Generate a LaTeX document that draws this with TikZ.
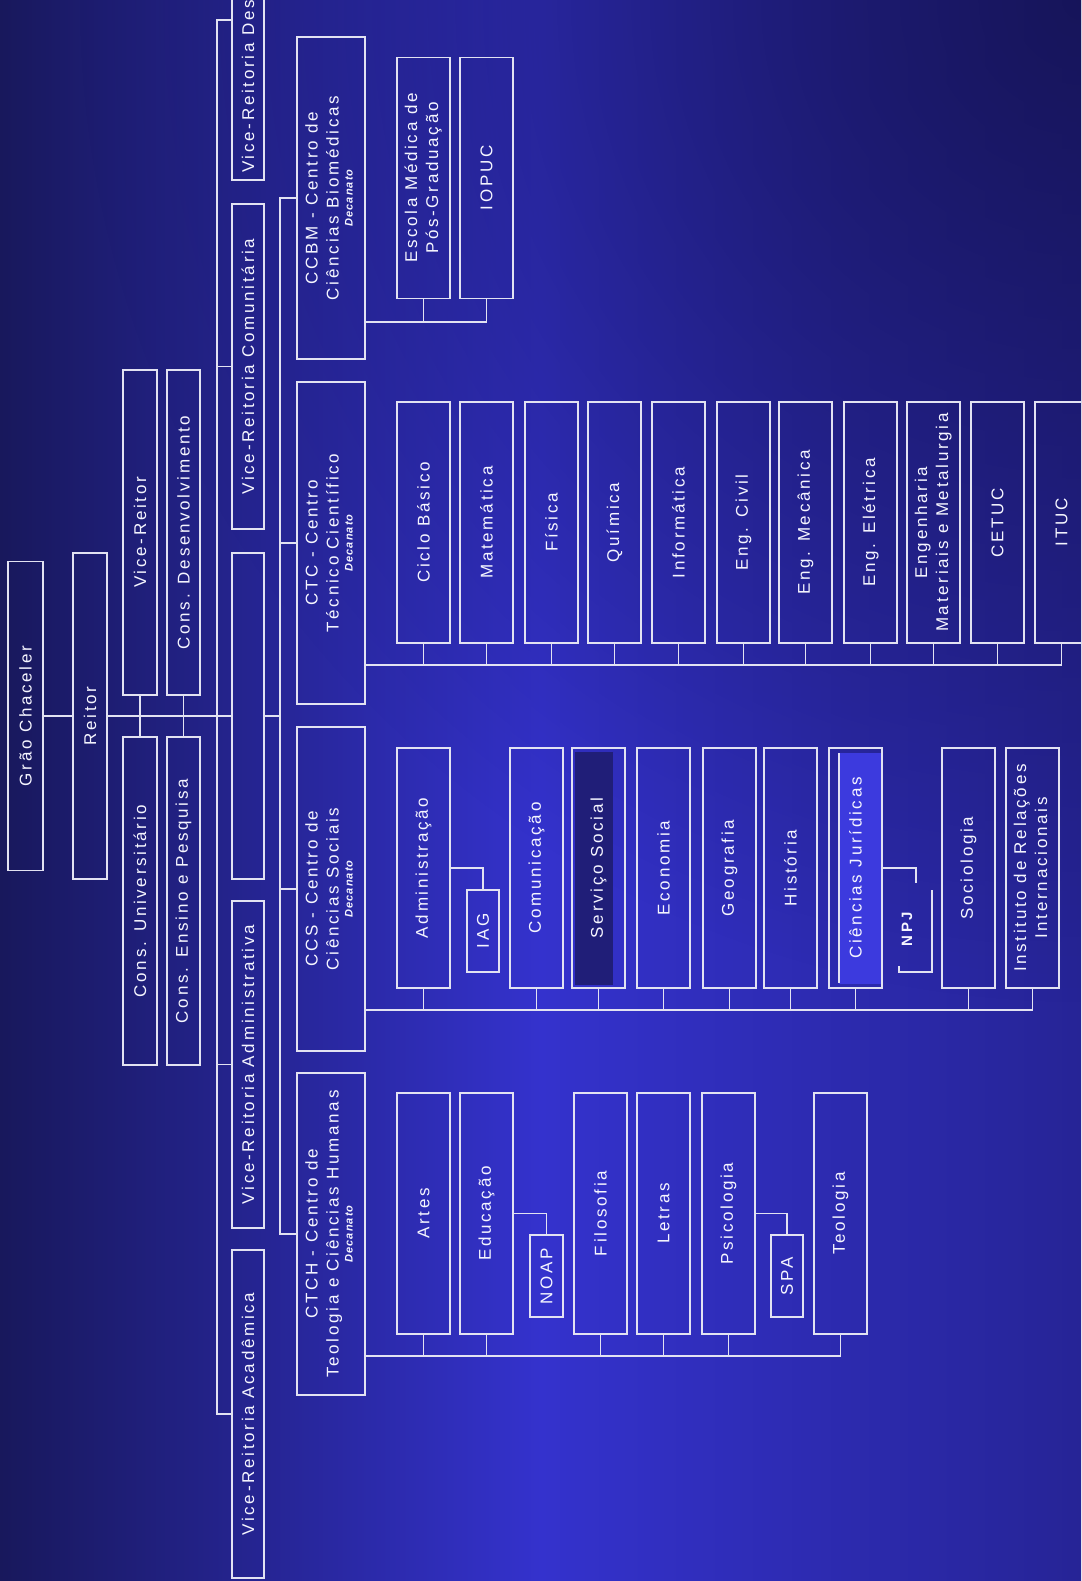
\documentclass[tikz,border=0pt]{standalone}
\usepackage{fontspec}
\usepackage{graphicx}
\setmainfont{Liberation Sans}
\newfontfamily\chartfam{Liberation Sans}[LetterSpace=16]
\newfontfamily\decfam{Liberation Sans}[LetterSpace=10]
\usetikzlibrary{fadings}
\definecolor{bgL}{RGB}{24,24,92}
\definecolor{bgM}{RGB}{52,50,205}
\definecolor{bgR}{RGB}{38,36,150}
\definecolor{bgD}{RGB}{20,18,80}
\definecolor{ln}{RGB}{226,226,242}
\definecolor{txt}{RGB}{245,245,255}
\definecolor{ssdark}{RGB}{32,30,120}
\definecolor{cjlight}{RGB}{60,58,222}
\tikzfading[name=cornerfade, inner color=transparent!15, outer color=transparent!100]
\newcommand\chartfont{\chartfam\fontsize{17}{21}\selectfont}
\newcommand\decfont{\decfam\itshape\bfseries\fontsize{11}{12}\selectfont}
\newcommand\vt[1]{\rotatebox{90}{#1}}
\newcommand\vsh[1]{\rotatebox{90}{#1}\hspace{21pt}}
\newcommand\vtwo[2]{\rotatebox{90}{\begin{tabular}{@{}c@{}}#1\\#2\end{tabular}}}
\newcommand\vdec[2]{\rotatebox{90}{\begin{tabular}{@{}c@{}}#1\\#2\\[-7pt]{\decfont Decanato}\end{tabular}}}
\begin{document}
\begin{tikzpicture}[x=1pt,y=-1pt,
  box/.style={draw=ln, line width=1.8pt, inner sep=0pt, text=txt, font=\chartfont},
  conn/.style={draw=ln, line width=1.8pt},
  top/.style={box, minimum width=34pt, minimum height=325pt},
  vrbox/.style={box, minimum width=32pt, minimum height=325pt},
  ctr/.style={box, minimum width=68pt, minimum height=322pt},
  chd/.style={box, minimum width=53pt, minimum height=241pt},
  sub/.style={box, minimum width=32pt, minimum height=82pt}]
\useasboundingbox (0,0) rectangle (1081,1581);
\clip (0,0) rectangle (1081,1581);
\shade[left color=bgL, right color=bgR, middle color=bgM] (0,0) rectangle (1081,1581);
\fill[bgD, path fading=cornerfade] (1081,0) circle (1000);
% special fills
\fill[ssdark] (575,752) rectangle (613,985);
\fill[cjlight] (839,753) rectangle (882,984);
\draw[ln, line width=1.3pt] (839,753) -- (839,983);

% top level
\node[box, minimum width=35pt, minimum height=309pt] (gc) at (25.5,716) {\vt{Grão Chaceler}};
\node[top, minimum height=326pt] (rei) at (90,716) {\vt{Reitor}};
\node[top] (vr) at (140,532.5) {\vt{Vice-Reitor}};
\node[top, minimum width=33pt] (cd) at (183.5,532.5) {\vt{Cons. Desenvolvimento}};
\node[top, minimum height=328pt] (cu) at (140,901) {\vt{Cons. Universitário}};
\node[top, minimum width=33pt, minimum height=328pt] (cep) at (183.5,901) {\vt{Cons. Ensino e Pesquisa}};

% vice-reitorias
\node[vrbox, minimum height=320pt] (vrd) at (248,20) {\vt{Vice-Reitoria Des\hspace{133pt}}};
\node[vrbox] (vrc) at (248,366.5) {\vt{Vice-Reitoria Comunitária}};
\node[vrbox, minimum height=326pt] (blank) at (248,716) {};
\node[vrbox, minimum height=327pt] (vra) at (248,1064.5) {\vt{Vice-Reitoria Administrativa}};
\node[vrbox, minimum height=328pt] (vrac) at (248,1414) {\vt{Vice-Reitoria Acadêmica}};

% centros
\node[ctr] (ccbm) at (331,198) {\vdec{CCBM - Centro de}{Ciências Biomédicas}};
\node[ctr] (ctc) at (331,543) {\vdec{CTC - Centro}{Técnico Científico}};
\node[ctr, minimum height=324pt] (ccs) at (331,889) {\vdec{CCS - Centro de}{Ciências Sociais}};
\node[ctr] (ctch) at (331,1234) {\vdec{CTCH - Centro de}{Teologia e Ciências Humanas}};

% CCBM children
\node[chd] (esc) at (423.5,178) {\vtwo{Escola Médica de}{Pós-Graduação}};
\node[chd] (iop) at (486.5,178) {\vsh{IOPUC}};

% CTC children
\node[chd] (cb)  at (423.5,522.5) {\vsh{Ciclo Básico}};
\node[chd] (mat) at (486.5,522.5) {\vsh{Matemática}};
\node[chd] (fis) at (551.5,522.5) {\vsh{Física}};
\node[chd] (qui) at (614.5,522.5) {\vsh{Química}};
\node[chd] (inf) at (678.5,522.5) {\vsh{Informática}};
\node[chd] (civ) at (743.5,522.5) {\vsh{Eng. Civil}};
\node[chd] (mec) at (805.5,522.5) {\vsh{Eng. Mecânica}};
\node[chd] (ele) at (870.5,522.5) {\vsh{Eng. Elétrica}};
\node[chd] (emm) at (933.5,522.5) {\vtwo{Engenharia}{Materiais e Metalurgia}};
\node[chd] (cet) at (997.5,522.5) {\vsh{CETUC}};
\node[chd] (itu) at (1061.5,522.5) {\vsh{ITUC}};

% CCS children
\node[chd, minimum height=240pt] (adm) at (423.5,868) {\vsh{Administração}};
\node[sub] (iag) at (483,931) {\vt{IAG}};
\node[chd, minimum height=240pt] (com) at (536.5,868) {\vsh{Comunicação}};
\node[chd, minimum height=240pt] (ss)  at (598.5,868) {\vsh{Serviço Social}};
\node[chd, minimum height=240pt] (eco) at (663.5,868) {\vsh{Economia}};
\node[chd, minimum height=240pt] (geo) at (729.5,868) {\vsh{Geografia}};
\node[chd, minimum height=240pt] (his) at (790.5,868) {\vsh{História}};
\node[chd, minimum height=240pt] (cj)  at (855.5,868) {\rotatebox{90}{Ciências Jurídicas}\hspace{7pt}};
\node[text=txt, font=\chartfam\bfseries\fontsize{15}{18}\selectfont, inner sep=0pt] (npj) at (907,929) {\vt{NPJ}};
\node[chd, minimum height=240pt] (soc) at (968.5,868) {\vsh{Sociologia}};
\node[chd, minimum height=240pt] (iri) at (1032.5,868) {\vtwo{Instituto de Relações}{Internacionais}};

% CTCH children
\node[chd] (art) at (423.5,1213.5) {\vsh{Artes}};
\node[chd] (edu) at (486.5,1213.5) {\vsh{Educação}};
\node[sub, minimum width=33pt] (noap) at (546.5,1276) {\vt{NOAP}};
\node[chd] (fil) at (600.5,1213.5) {\vsh{Filosofia}};
\node[chd] (let) at (663.5,1213.5) {\vsh{Letras}};
\node[chd] (psi) at (728.5,1213.5) {\vsh{Psicologia}};
\node[sub] (spa) at (787,1276) {\vt{SPA}};
\node[chd] (teo) at (840.5,1213.5) {\vsh{Teologia}};

% coordinates
\coordinate (sp1) at (217,0);
\coordinate (sp2) at (280,0);
\coordinate (busA) at (0,322);
\coordinate (busB) at (0,665);
\coordinate (busC) at (0,1010);
\coordinate (busD) at (0,1356);
\coordinate (npjtop) at (916,883);

% top connectors
\draw[conn] (gc.east) -- (rei.west);
\draw[conn] (rei.east) -- (blank.west);
\draw[conn] (vr.south) -- (cu.north);
\draw[conn] (cd.south) -- (cep.north);
\draw[conn] (vrd.west) -| (sp1 |- vrac.west) -- (vrac.west);
\draw[conn] (vrc.west) -- (vrc.west -| sp1);
\draw[conn] (vra.west) -- (vra.west -| sp1);
\draw[conn] (ccbm.west) -| (sp2 |- ctch.west) -- (ctch.west);
\draw[conn] (ctc.west) -- (ctc.west -| sp2);
\draw[conn] (ccs.west) -- (ccs.west -| sp2);
\draw[conn] (blank.east) -- (blank.east -| sp2);

% buses
\draw[conn] (ccbm.east |- busA) -| (iop.south);
\draw[conn] (esc.south) -- (esc.south |- busA);
\draw[conn] (ctc.east |- busB) -| (itu.south);
\foreach \n in {cb,mat,fis,qui,inf,civ,mec,ele,emm,cet}
  \draw[conn] (\n.south) -- (\n.south |- busB);
\draw[conn] (ccs.east |- busC) -| (iri.south);
\foreach \n in {adm,com,ss,eco,geo,his,cj,soc}
  \draw[conn] (\n.south) -- (\n.south |- busC);
\draw[conn] (ctch.east |- busD) -| (teo.south);
\foreach \n in {art,edu,fil,let,psi}
  \draw[conn] (\n.south) -- (\n.south |- busD);

% sub-units
\draw[conn] (adm.east) -| (iag.north);
\draw[conn] (edu.east) -| (noap.north);
\draw[conn] (psi.east) -| (spa.north);
\draw[conn] (cj.east) -| (npjtop);
\draw[conn] (899,966) -- (899,972) -- (932,972) -- (932,890);
\end{tikzpicture}
\end{document}
